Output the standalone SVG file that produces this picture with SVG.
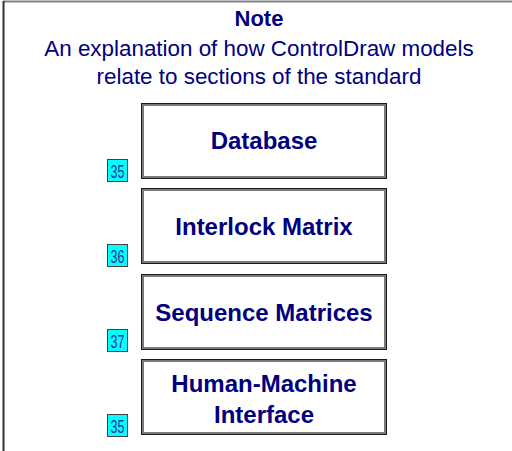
<svg xmlns="http://www.w3.org/2000/svg" width="512" height="451" viewBox="0 0 512 451">
<defs>
<style>
.t{font-family:"Liberation Sans",Arial,sans-serif;fill:#000080;text-anchor:middle}
.h{font-weight:bold;font-size:22px}
.s{font-size:22.4px}
.b{font-weight:bold;font-size:24px}
.bo{fill:#fff;stroke:#1a1a1a;stroke-width:1}
.bi{fill:none;stroke:#7a7a7a;stroke-width:2}
.bk{fill:none;stroke:#1a1a1a;stroke-width:1}
.tag{fill:#00ffff;stroke:#444;stroke-width:1}
.n{font-family:"Liberation Sans",Arial,sans-serif;font-size:19px;fill:#3030a0;text-anchor:middle}
</style>
</defs>
<rect width="512" height="451" fill="#fff"/>
<line x1="3" y1="1.5" x2="512" y2="1.5" stroke="#808080" stroke-width="2"/>
<line x1="3.5" y1="1" x2="3.5" y2="451" stroke="#333" stroke-width="2"/>
<g id="note">
<text class="t h" x="259" y="26">Note</text>
<text class="t s" x="259" y="56">An explanation of how ControlDraw models</text>
<text class="t s" x="259" y="84">relate to sections of the standard</text>
</g>
<g id="connectors"></g>
<g id="database">
<rect class="bo" x="141.5" y="103.5" width="245" height="75"/>
<rect class="bi" x="143" y="105" width="242" height="72"/>
<text class="t b" x="264" y="149">Database</text>
</g>
<g id="tag1"><rect class="tag" x="107.5" y="159.5" width="20" height="22"/><text class="n" transform="translate(117.5 177.5) scale(0.66 1)">35</text></g>
<g id="interlock">
<rect class="bo" x="141.5" y="188.5" width="245" height="75"/>
<rect class="bi" x="143" y="190" width="242" height="72"/>
<text class="t b" x="264" y="235">Interlock Matrix</text>
</g>
<g id="tag2"><rect class="tag" x="107.5" y="244.5" width="20" height="22"/><text class="n" transform="translate(117.5 262.5) scale(0.66 1)">36</text></g>
<g id="sequence">
<rect class="bo" x="141.5" y="274.5" width="245" height="75"/>
<rect class="bi" x="143" y="276" width="242" height="72"/>
<text class="t b" x="264" y="321">Sequence Matrices</text>
</g>
<g id="tag3"><rect class="tag" x="107.5" y="329.5" width="20" height="22"/><text class="n" transform="translate(117.5 347.5) scale(0.66 1)">37</text></g>
<g id="hmi">
<rect class="bo" x="141.5" y="359.5" width="245" height="75"/>
<rect class="bi" x="143" y="361" width="242" height="72"/>
<text class="t b" x="264" y="392">Human-Machine</text>
<text class="t b" x="264" y="423">Interface</text>
</g>
<g id="tag4"><rect class="tag" x="107.5" y="414.5" width="20" height="22"/><text class="n" transform="translate(117.5 432.5) scale(0.66 1)">35</text></g>
</svg>
